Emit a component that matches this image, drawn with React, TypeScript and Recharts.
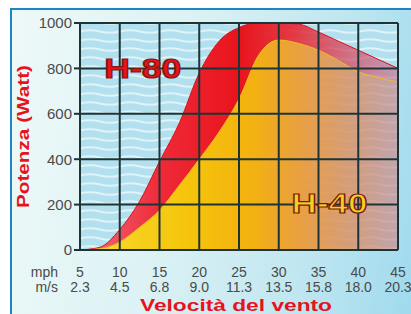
import {
  Area,
  AreaChart,
  CartesianGrid,
  ReferenceDot,
  XAxis,
  YAxis,
} from "recharts";

const mph = [5, 7.5, 10, 12.5, 15, 17.5, 20, 22.5, 25, 27.5, 30, 32.5, 35, 37.5, 40, 42.5, 45];
const h80 = [0, 12, 90, 215, 390, 560, 780, 920, 980, 1000, 1000, 995, 960, 920, 880, 840, 800];
const h40 = [0, 5, 35, 100, 175, 285, 400, 520, 665, 860, 925, 910, 880, 835, 785, 760, 740];

const mphTicks = [5, 10, 15, 20, 25, 30, 35, 40, 45];
const msLabels = ["2.3", "4.5", "6.8", "9.0", "11.3", "13.5", "15.8", "18.0", "20.3"];
const powerTicks = [0, 200, 400, 600, 800, 1000];

const data = mph.map((m, i) => ({ mph: m, h80: h80[i], h40: h40[i] }));

const W = 411;
const H = 314;
const margin = { top: 23, right: 13, bottom: 34, left: 30 };
const yAxisW = 50;
const xAxisH = 30;
const plotW = W - margin.left - margin.right - yAxisW;
const plotH = H - margin.top - margin.bottom - xAxisH;

const tickFont = "'Liberation Sans', Arial, sans-serif";
const gridColor = "#1c3436";

function SpeedTick(props: any) {
  const { x, y, payload } = props;
  const i = mphTicks.indexOf(payload.value);
  return (
    <g fill="#4a4a4a" fontFamily={tickFont} fontSize={14}>
      <text x={x} y={y + 19} textAnchor="middle">{payload.value}</text>
      <text x={x} y={y + 34} textAnchor="middle">{msLabels[i]}</text>
      {i === 0 && (
        <>
          <text x={58} y={y + 19} textAnchor="end">mph</text>
          <text x={58} y={y + 34} textAnchor="end">m/s</text>
        </>
      )}
    </g>
  );
}

// grid lines are drawn as reference-dot labels so they sit above the areas
const vLine = (p: any) => {
  const { viewBox } = p;
  const cx = viewBox.cx ?? viewBox.x;
  const cy = viewBox.cy ?? viewBox.y;
  return <path d={`M${cx},${cy}V${cy - plotH}`} stroke={gridColor} strokeWidth={2} fill="none" />;
};
const hLine = (p: any) => {
  const { viewBox } = p;
  const cx = viewBox.cx ?? viewBox.x;
  const cy = viewBox.cy ?? viewBox.y;
  return <path d={`M${cx},${cy}H${cx + plotW}`} stroke={gridColor} strokeWidth={2} fill="none" />;
};

function ModelLabel(text: string, fill: string, width: number) {
  return (props: any) => {
    const { viewBox } = props;
    const cx = viewBox.cx ?? viewBox.x;
    const cy = viewBox.cy ?? viewBox.y;
    return (
      <text
        x={cx - width / 2}
        y={cy + 10}
        fill={fill}
        stroke="#7a1a10"
        strokeWidth={1.2}
        fontFamily={tickFont}
        fontWeight="bold"
        fontSize={28}
        textLength={width}
        lengthAdjust="spacingAndGlyphs"
      >
        {text}
      </text>
    );
  };
}

export default function App() {
  return (
    <div style={{ position: "absolute", left: 0, top: 0, width: W, height: H, background: "#fff" }}>
      {/* frame */}
      <div
        style={{
          position: "absolute",
          left: 10,
          top: 8,
          right: 0,
          bottom: 0,
          borderTop: "2px solid #1a86c2",
          borderLeft: "2px solid #1a86c2",
          background: "linear-gradient(100deg, #eef9f8 0%, #dcf2f4 40%, #bfe6f0 75%, #9fdaee 100%)",
        }}
      />
      <div style={{ position: "absolute", left: 0, top: 0 }}>
        <AreaChart width={W} height={H} data={data} margin={margin}>
          <defs>
            <pattern id="waves" width="40" height="9" patternUnits="userSpaceOnUse">
              <rect width="40" height="9" fill="#b2e0ee" />
              <path d="M0 4.5 Q10 2 20 4.5 T40 4.5" fill="none" stroke="#ffffff" strokeOpacity={0.6} strokeWidth={2} />
            </pattern>
            <linearGradient id="redFill" x1="0" y1="0" x2="1" y2="0">
              <stop offset="0%" stopColor="#f07080" />
              <stop offset="25%" stopColor="#ef2a38" />
              <stop offset="50%" stopColor="#e8141c" />
              <stop offset="68%" stopColor="#e62a34" stopOpacity={0.9} />
              <stop offset="100%" stopColor="#c86084" stopOpacity={0.55} />
            </linearGradient>
            <linearGradient id="yellowFill" x1="0" y1="0" x2="1" y2="0">
              <stop offset="0%" stopColor="#f8dc30" />
              <stop offset="35%" stopColor="#f5c40a" />
              <stop offset="55%" stopColor="#f3b810" stopOpacity={0.95} />
              <stop offset="75%" stopColor="#e8d050" stopOpacity={0.6} />
              <stop offset="100%" stopColor="#c8e890" stopOpacity={0.15} />
            </linearGradient>
          </defs>

          <CartesianGrid stroke="none" fill="url(#waves)" />
          <XAxis
            dataKey="mph"
            type="number"
            domain={[5, 45]}
            ticks={mphTicks}
            tick={<SpeedTick />}
            tickLine={false}
            axisLine={false}
            height={xAxisH}
            label={{
              content: () => (
                <text
                  x={140}
                  y={311}
                  fill="#e8121c"
                  fontFamily={tickFont}
                  fontWeight="bold"
                  fontSize={17}
                  textLength={192}
                  lengthAdjust="spacingAndGlyphs"
                >
                  Velocità del vento
                </text>
              ),
            }}
          />
          <YAxis
            type="number"
            domain={[0, 1000]}
            ticks={powerTicks}
            width={yAxisW}
            axisLine={false}
            tickLine={{ stroke: gridColor, strokeWidth: 2 }}
            tickSize={6}
            tick={{ fill: "#4a4a4a", fontSize: 15, fontFamily: tickFont }}
            label={{
              content: () => (
                <text
                  x={0}
                  y={0}
                  transform="translate(29 208) rotate(-90)"
                  fill="#e8121c"
                  fontFamily={tickFont}
                  fontWeight="bold"
                  fontSize={16}
                  textLength={143}
                  lengthAdjust="spacingAndGlyphs"
                >
                  Potenza (Watt)
                </text>
              ),
            }}
          />

          <Area
            type="monotone"
            dataKey="h80"
            stroke="#d8101a"
            strokeWidth={1}
            fill="url(#redFill)"
            fillOpacity={1}
            isAnimationActive={false}
          />
          <Area
            type="monotone"
            dataKey="h40"
            stroke="#f0c020"
            strokeWidth={1}
            fill="url(#yellowFill)"
            fillOpacity={1}
            isAnimationActive={false}
          />

          {mphTicks.map((t) => (
            <ReferenceDot key={"v" + t} x={t} y={0} r={0} ifOverflow="visible" label={{ content: vLine }} />
          ))}
          {powerTicks.map((t) => (
            <ReferenceDot key={"h" + t} x={5} y={t} r={0} ifOverflow="visible" label={{ content: hLine }} />
          ))}

          <ReferenceDot x={12.9} y={800} r={0} label={{ content: ModelLabel("H-80", "#e8121c", 77) }} />
          <ReferenceDot x={36.4} y={207} r={0} label={{ content: ModelLabel("H-40", "#f5d020", 76) }} />
        </AreaChart>
      </div>
    </div>
  );
}
